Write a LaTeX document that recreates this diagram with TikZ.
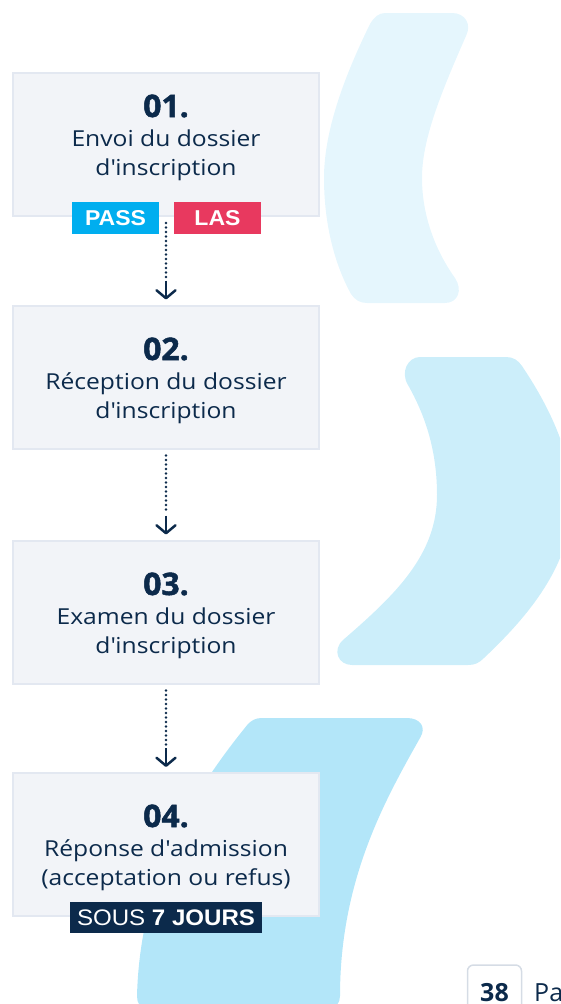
\documentclass[tikz,border=0pt]{standalone}
\usepackage{fontspec}
\setmainfont{Open Sans}
\newfontfamily\bodyf[FakeStretch=1.12]{Open Sans}
\newfontfamily\numf[FakeStretch=1.03,BoldFeatures={FakeBold=1.6}]{Open Sans}
\newfontfamily\arialf[FakeStretch=1.07]{Liberation Sans}
\usetikzlibrary{arrows.meta}
\definecolor{navy}{HTML}{0C2A4B}
\definecolor{boxfill}{HTML}{F2F4F8}
\definecolor{boxline}{HTML}{E3E8F1}
\definecolor{passc}{HTML}{00AEEF}
\definecolor{lasc}{HTML}{E8395F}
\definecolor{shA}{HTML}{E5F6FD}
\definecolor{shB}{HTML}{CCEEFA}
\definecolor{shC}{HTML}{B3E6F9}
\definecolor{pgline}{HTML}{D5DCE5}
\newcommand{\apo}{\textquotesingle}
\tikzset{
  stepbox/.style={draw=boxline, fill=boxfill, line width=2pt, minimum width=306pt, minimum height=143pt, inner sep=0pt},
  numlabel/.style={font=\numf\fontsize{31}{31}\selectfont\bfseries, text=navy, anchor=base, inner sep=0pt},
  desclabel/.style={font=\bodyf\fontsize{22}{22}\selectfont, text=navy, anchor=base, inner sep=0pt},
  badge/.style={text=white, font=\arialf\bfseries\fontsize{21.5}{21.5}\selectfont, minimum width=87pt, minimum height=32pt, inner sep=0pt},
  dotline/.style={draw=navy, line width=2.7pt, line cap=round, dash pattern=on 0pt off 4.5pt},
  tipline/.style={draw=navy, line width=2.5pt, -{Straight Barb[length=8pt,width=19pt,line cap=round,line join=round]}},
}
\begin{document}
\begin{tikzpicture}[x=1pt,y=-1pt]
\useasboundingbox (0,0) rectangle (560,1004);
\clip (0,0) rectangle (560,1004);
% background shapes
\fill[shA] (385,13) -- (452,13) .. controls (465,13) and (472,24) .. (466,36)
  .. controls (440,95) and (422,140) .. (422,178)
  .. controls (422,215) and (435,250) .. (455,278)
  .. controls (463,290) and (458,303) .. (445,303)
  -- (367,303) .. controls (360,303) and (355,300) .. (351,294)
  .. controls (335,265) and (324,225) .. (324,178)
  .. controls (324,130) and (345,75) .. (370,24)
  .. controls (374,17) and (379,13) .. (385,13) -- cycle;
\fill[shB] (420,357) -- (506,357) .. controls (513,357) and (518,360) .. (522,366)
  .. controls (555,415) and (572,460) .. (572,500)
  .. controls (572,560) and (535,610) .. (484,658)
  .. controls (479,663) and (475,665) .. (468,665)
  -- (352,665) .. controls (338,665) and (332,650) .. (343,640)
  .. controls (395,595) and (437,555) .. (437,495)
  .. controls (437,450) and (425,415) .. (408,385)
  .. controls (400,372) and (408,357) .. (420,357) -- cycle;
\fill[shC] (262,718) -- (407,718) .. controls (420,718) and (427,727) .. (420,738)
  .. controls (385,800) and (340,880) .. (340,996)
  .. controls (340,1003) and (336,1008) .. (330,1008)
  -- (146,1008) .. controls (140,1008) and (137,1003) .. (137,996)
  .. controls (140,880) and (190,795) .. (248,724)
  .. controls (252,720) and (256,718) .. (262,718) -- cycle;
% boxes
\node[stepbox] (b1) at (166,144.5) {};
\node[stepbox] (b2) at (166,377) {};
\node[stepbox] (b3) at (166,612) {};
\node[stepbox] (b4) at (166,844.5) {};
% texts
\node[numlabel] (n1) at (166,117) {01.};
\node[desclabel] (d1a) at (166,146) {Envoi du dossier};
\node[desclabel] (d1b) at (166,175) {d\apo inscription};
\node[numlabel] (n2) at (166,360) {02.};
\node[desclabel] (d2a) at (166,389) {Réception du dossier};
\node[desclabel] (d2b) at (166,418) {d\apo inscription};
\node[numlabel] (n3) at (166,595) {03.};
\node[desclabel] (d3a) at (166,624) {Examen du dossier};
\node[desclabel] (d3b) at (166,653) {d\apo inscription};
\node[numlabel] (n4) at (166,827) {04.};
\node[desclabel] (d4a) at (166,856) {Réponse d\apo admission};
\node[desclabel] (d4b) at (166,885) {(acceptation ou refus)};
% badges
\node[badge, fill=passc] (pass) at (115.5,218) {PASS};
\node[badge, fill=lasc] (las) at (217.5,218) {LAS};
\node[badge, fill=navy, minimum width=192pt, minimum height=31pt, font=\arialf\fontsize{22.5}{22.5}\selectfont] (sous) at (166,917.5) {SOUS \textbf{7 JOURS}};
% connectors
\draw[dotline, shorten <=6pt, shorten >=26pt] (b1.south) -- (b2.north);
\draw[tipline] ([yshift=24pt]b2.north) -- ([yshift=5pt]b2.north);
\draw[dotline, shorten <=6pt, shorten >=26pt] (b2.south) -- (b3.north);
\draw[tipline] ([yshift=24pt]b3.north) -- ([yshift=5pt]b3.north);
\draw[dotline, shorten <=6pt, shorten >=26pt] (b3.south) -- (b4.north);
\draw[tipline] ([yshift=24pt]b4.north) -- ([yshift=5pt]b4.north);
% page number
\node[draw=pgline, line width=1.5pt, rounded corners=6pt, minimum width=54pt, minimum height=52pt, inner sep=0pt] (pg) at (494.5,991) {};
\node[anchor=base, inner sep=0pt, text=navy, font=\fontsize{25}{25}\selectfont\bfseries] (pgnum) at (494.5,1001) {38};
\node[anchor=base west, inner sep=0pt, text=navy, font=\fontsize{25}{25}\selectfont] (pgtxt) at (534,1001) {Pa};
\end{tikzpicture}
\end{document}
